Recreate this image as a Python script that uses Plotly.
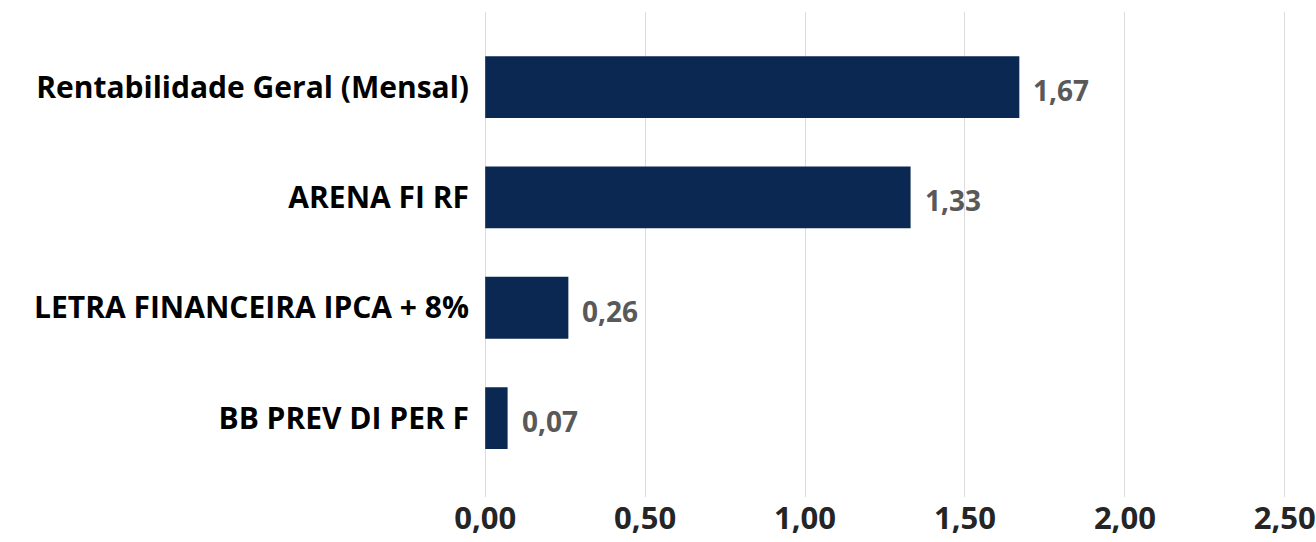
import plotly.graph_objects as go

categories = ["Rentabilidade Geral (Mensal)", "ARENA FI RF", "LETRA FINANCEIRA IPCA + 8%", "BB PREV DI PER F"]
values = [1.67, 1.33, 0.26, 0.07]
tick_values = [0, 0.5, 1.0, 1.5, 2.0, 2.5]

BAR = "#0A2851"
FONT = "Open Sans"

fig = go.Figure()
fig.add_trace(go.Bar(
    x=values, y=categories, orientation="h",
    marker=dict(color=BAR, line=dict(width=0)),
    width=0.56,
    hoverinfo="skip",
))
for c, v in zip(categories, values):
    fig.add_annotation(
        x=v, y=c, text=f"{v:.2f}".replace(".", ","), showarrow=False,
        xanchor="left", yanchor="middle", xshift=12, yshift=-3,
        font=dict(family=FONT, size=28, color="#595959", weight="bold"),
    )

fig.update_layout(
    width=1316, height=542,
    margin=dict(l=482, r=28, t=12, b=45),
    paper_bgcolor="white", plot_bgcolor="white",
    separators=",.",
    showlegend=False,
    font=dict(family=FONT, color="#000000"),
    xaxis=dict(
        range=[-0.01, 2.51], tickvals=tick_values, tickformat=".2f",
        showgrid=True, gridcolor="#DCDCDC", gridwidth=1,
        zeroline=False, showline=False, ticks="", automargin=False,
        tickfont=dict(family=FONT, size=31, color="#252525", weight="bold"),
    ),
    yaxis=dict(
        categoryorder="array", categoryarray=categories,
        range=[3.715, -0.68], automargin=False,
        showgrid=False, zeroline=False, showline=False, ticks="",
        ticklabelstandoff=12,
        tickfont=dict(family=FONT, size=30, color="#000000", weight="bold"),
    ),
)

fig.write_html("out.html", config={"displayModeBar": False},
               post_script="document.body.style.margin='0';")
